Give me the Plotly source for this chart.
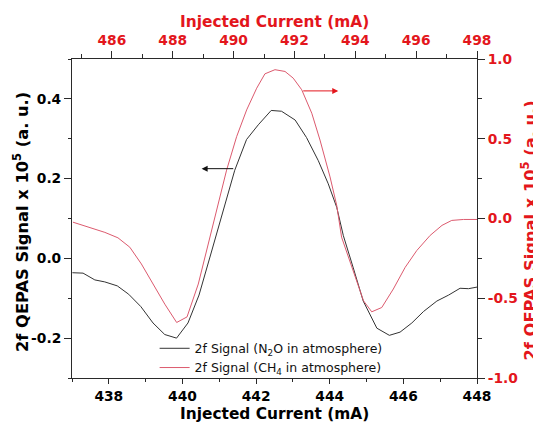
import plotly.graph_objects as go

# N2O signal (bottom axis: injected current, mA; left axis)
n2o_current = [437.01, 437.30, 437.62, 437.89, 438.23, 438.54, 438.87, 439.20, 439.52, 439.84,
               440.15, 440.45, 440.74, 441.11, 441.42, 441.74, 442.06, 442.41, 442.69, 443.06,
               443.37, 443.69, 443.96, 444.19, 444.37, 444.64, 444.91, 445.28, 445.62, 445.91,
               446.23, 446.55, 446.91, 447.23, 447.54, 447.77, 448.00]
n2o_signal = [-0.036, -0.037, -0.054, -0.059, -0.069, -0.090, -0.121, -0.162, -0.191, -0.200,
              -0.162, -0.092, 0.001, 0.120, 0.221, 0.298, 0.335, 0.371, 0.369, 0.347,
              0.303, 0.245, 0.187, 0.128, 0.057, -0.024, -0.107, -0.175, -0.193, -0.185,
              -0.162, -0.133, -0.107, -0.092, -0.075, -0.076, -0.072]

# CH4 signal (top axis: injected current, mA; right axis)
ch4_current = [484.72, 485.05, 485.44, 485.77, 486.20, 486.59, 486.97, 487.36, 487.74, 488.13,
               488.47, 488.84, 489.22, 489.44, 489.77, 490.10, 490.43, 490.76, 491.03, 491.36,
               491.69, 491.96, 492.24, 492.57, 492.84, 493.17, 493.39, 493.55, 493.88, 494.27,
               494.54, 494.87, 495.25, 495.64, 496.02, 496.46, 496.85, 497.17, 497.56, 498.00]
ch4_signal = [-0.023, -0.044, -0.065, -0.087, -0.121, -0.180, -0.285, -0.411, -0.537, -0.652,
              -0.617, -0.411, -0.117, 0.051, 0.303, 0.513, 0.681, 0.817, 0.907, 0.933,
              0.922, 0.880, 0.807, 0.660, 0.492, 0.261, 0.082, -0.117, -0.306, -0.516,
              -0.585, -0.558, -0.442, -0.306, -0.201, -0.106, -0.043, -0.012, -0.006, -0.006]

# tick values / labels
bottom_ticks = [438, 440, 442, 444, 446, 448]
top_ticks = [486, 488, 490, 492, 494, 496, 498]
left_ticks = [-0.2, 0.0, 0.2, 0.4]
left_labels = ["-0.2", "0.0", "0.2", "0.4"]
right_ticks = [-1.0, -0.5, 0.0, 0.5, 1.0]
right_labels = ["-1.0", "-0.5", "0.0", "0.5", "1.0"]

RED = "#e3161c"
AX = "#2a2a2a"
FONT = "DejaVu Sans"

# the page body adds an 8px offset; margins compensate for it
OFF = 8
ML, MR, MT, MB = 64, 72, 51, 53
W, H = 541, 423

fig = go.Figure()
fig.add_trace(go.Scatter(x=n2o_current, y=n2o_signal, mode="lines",
                         line=dict(color="#333333", width=1),
                         name="2f Signal (N<sub>2</sub>O in atmosphere)",
                         xaxis="x", yaxis="y"))
fig.add_trace(go.Scatter(x=ch4_current, y=ch4_signal, mode="lines",
                         line=dict(color="#dc5a6e", width=1),
                         name="2f Signal (CH<sub>4</sub> in atmosphere)",
                         xaxis="x2", yaxis="y2"))

tf_black = dict(family=FONT, size=13.8, color="black", weight="bold")
tf_red = dict(family=FONT, size=13.8, color=RED, weight="bold")

common = dict(ticks="outside", tickwidth=1, tickcolor=AX, showline=True, linecolor=AX,
              linewidth=1, showgrid=False, zeroline=False, automargin=False)

fig.update_layout(
    width=W, height=H,
    margin=dict(l=ML, r=MR, t=MT, b=MB),
    plot_bgcolor="white", paper_bgcolor="white",
    font=dict(family=FONT, color="black"),
    showlegend=True,
    legend=dict(x=0.204, y=0.139, xanchor="left", yanchor="top",
                bgcolor="rgba(0,0,0,0)", font=dict(family=FONT, size=12.5, color="#111"),
                tracegroupgap=0, itemwidth=30),
    xaxis=dict(range=[437, 448], tickmode="array", tickvals=bottom_ticks, ticklen=5,
               tickfont=tf_black,
               minor=dict(tickmode="linear", dtick=1, tick0=437, ticks="outside", ticklen=3, tickcolor=AX),
               **common),
    yaxis=dict(range=[-0.3, 0.5], tickmode="array", tickvals=left_ticks, ticktext=left_labels,
               ticklen=7, tickfont=tf_black,
               minor=dict(tickmode="linear", dtick=0.1, tick0=-0.3, ticks="outside", ticklen=3, tickcolor=AX),
               **common),
    xaxis2=dict(range=[484.69, 498], tickmode="array", tickvals=top_ticks, overlaying="x",
                side="top", anchor="y", ticklen=7, tickfont=tf_red,
                minor=dict(tickmode="linear", dtick=1, tick0=485, ticks="outside", ticklen=4, tickcolor=AX),
                **common),
    yaxis2=dict(range=[-1, 1], tickmode="array", tickvals=right_ticks, ticktext=right_labels,
                overlaying="y", side="right", anchor="x", ticklen=7, tickfont=tf_red,
                minor=dict(tickmode="linear", dtick=0.25, tick0=-1, ticks="outside", ticklen=4, tickcolor=AX),
                **common),
)

PW, PH = W - ML - MR, H - MT - MB
def px(xp):
    return (xp - OFF - ML) / PW
def py(yp):
    return (H - MB - (yp - OFF)) / PH

ytitle = "<b>2f QEPAS Signal x 10<sup>5</sup> (a. u.)</b>"
xtitle = "<b>Injected Current (mA)</b>"
fig.add_annotation(text=xtitle, x=px(274.5), y=py(414), xref="paper", yref="paper",
                   showarrow=False, xanchor="center", yanchor="middle",
                   font=dict(family=FONT, size=15.4, color="black"))
fig.add_annotation(text=xtitle, x=px(274.5), y=py(21.5), xref="paper", yref="paper",
                   showarrow=False, xanchor="center", yanchor="middle",
                   font=dict(family=FONT, size=15.4, color=RED))
fig.add_annotation(text=ytitle, x=px(21), y=py(222), xref="paper", yref="paper",
                   showarrow=False, xanchor="center", yanchor="middle", textangle=-90,
                   font=dict(family=FONT, size=16.3, color="black"))
fig.add_annotation(text=ytitle, x=px(529.5), y=py(231), xref="paper", yref="paper",
                   showarrow=False, xanchor="center", yanchor="middle", textangle=-90,
                   font=dict(family=FONT, size=16.3, color=RED))

# direction arrows
fig.add_annotation(x=440.52, y=0.225, ax=441.42, ay=0.225, xref="x", yref="y",
                   axref="x", ayref="y", text="", showarrow=True, arrowhead=2,
                   arrowsize=1.2, arrowwidth=1, arrowcolor="#111")
fig.add_annotation(x=493.44, y=0.80, ax=492.24, ay=0.80, xref="x2", yref="y2",
                   axref="x2", ayref="y2", text="", showarrow=True, arrowhead=2,
                   arrowsize=1.2, arrowwidth=1, arrowcolor=RED)

fig.write_html("out.html")
